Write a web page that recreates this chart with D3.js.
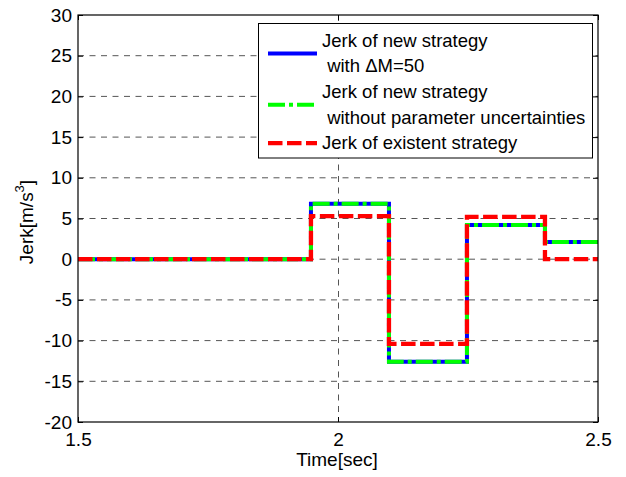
<!DOCTYPE html>
<html>
<head>
<meta charset="utf-8">
<script src="https://cdn.jsdelivr.net/npm/d3@7/dist/d3.min.js"></script>
<style>
  html, body { margin: 0; padding: 0; background: #fff; }
  svg { display: block; font-family: "Liberation Sans", Arial, sans-serif; }
</style>
</head>
<body>
<svg id="chart" width="626" height="477"></svg>
<script>
// Step instants [sec] where each jerk profile switches level
const stepTimes = [1.5, 1.948, 2.098, 2.248, 2.398];
const timeEnd = 2.5;

// Jerk level held from each step instant [m/s^3]
const jerkNewDM50    = [0, 6.8, -12.6, 4.2, 2.1];
const jerkNewNominal = [0, 6.8, -12.6, 4.2, 2.1];
const jerkExistent   = [0, 5.3, -10.4, 5.2, 0];

// Axis ticks
const xTicks = [1.5, 2, 2.5];
const yTicks = [-20, -15, -10, -5, 0, 5, 10, 15, 20, 25, 30];

// Legend entries (multi-line labels)
const legendLabels = [
  ["Jerk of new strategy", " with \u0394M=50"],
  ["Jerk of new strategy", " without parameter uncertainties"],
  ["Jerk of existent strategy"]
];

const svg = d3.select("#chart");
const L = 78, R = 598, T = 15, B = 422;

const x = d3.scaleLinear().domain([1.5, 2.5]).range([L, R]);
const y = d3.scaleLinear().domain([-20, 30]).range([B, T]);

// Grid
const grid = svg.append("g").attr("stroke", "#555").attr("stroke-width", 1)
  .attr("stroke-dasharray", "6,5.5").attr("fill", "none");
yTicks.filter(v => v > -20 && v < 30).forEach(v => {
  grid.append("line").attr("x1", L).attr("x2", R).attr("y1", y(v)).attr("y2", y(v));
});
xTicks.filter(v => v > 1.5 && v < 2.5).forEach(v => {
  grid.append("line").attr("x1", Math.round(x(v)) + 0.5).attr("x2", Math.round(x(v)) + 0.5)
    .attr("y1", T).attr("y2", B);
});

// Axes with inward ticks; plain hyphen for negative labels
const fontSize = 19;
const plain = d => String(d);
const yAxis = svg.append("g").attr("transform", `translate(${L},0)`)
  .call(d3.axisLeft(y).tickValues(yTicks).tickSizeInner(-5).tickSizeOuter(0).tickPadding(6)
    .tickFormat(plain));
const yAxisR = svg.append("g").attr("transform", `translate(${R},0)`)
  .call(d3.axisRight(y).tickValues(yTicks).tickSizeInner(-5).tickSizeOuter(0).tickFormat(""));
const xAxis = svg.append("g").attr("transform", `translate(0,${B})`)
  .call(d3.axisBottom(x).tickValues(xTicks).tickSizeInner(-5).tickSizeOuter(0).tickPadding(11)
    .tickFormat(plain));
const xAxisT = svg.append("g").attr("transform", `translate(0,${T})`)
  .call(d3.axisTop(x).tickValues(xTicks).tickSizeInner(-5).tickSizeOuter(0).tickFormat(""));
[yAxis, yAxisR, xAxis, xAxisT].forEach(g => {
  g.select(".domain").remove();
  g.selectAll("line").attr("stroke", "#000");
  g.selectAll("text").attr("font-size", fontSize).attr("fill", "#000")
    .attr("font-family", "Liberation Sans, Arial, sans-serif");
});

// Series
function stepData(vals) {
  const pts = stepTimes.map((t, i) => [t, vals[i]]);
  pts.push([timeEnd, vals[vals.length - 1]]);
  return pts;
}
const line = d3.line().x(d => x(d[0])).y(d => y(d[1])).curve(d3.curveStepAfter);

const series = [
  { data: jerkNewDM50,    color: "#0000ff", width: 4,   dash: null },
  { data: jerkNewNominal, color: "#00ff00", width: 4,   dash: "17,4,4,4" },
  { data: jerkExistent,   color: "#ff0000", width: 4.3, dash: "14.5,4.5" }
];
const clip = svg.append("clipPath").attr("id", "plotclip");
clip.append("rect").attr("x", L).attr("y", T).attr("width", R - L).attr("height", B - T);
const plotG = svg.append("g").attr("clip-path", "url(#plotclip)");
series.forEach(s => {
  plotG.append("path").datum(stepData(s.data))
    .attr("d", line).attr("fill", "none")
    .attr("stroke", s.color).attr("stroke-width", s.width)
    .attr("stroke-dasharray", s.dash)
    .attr("stroke-linejoin", "miter");
});

// Axes box
svg.append("rect").attr("x", L).attr("y", T).attr("width", R - L).attr("height", B - T)
  .attr("fill", "none").attr("stroke", "#000").attr("stroke-width", 1.2);

// Axis titles
svg.append("text").attr("x", (L + R) / 2 - 1).attr("y", 466).attr("text-anchor", "middle")
  .attr("font-size", fontSize).text("Time[sec]");
const yl = svg.append("text").attr("transform", "translate(33,222) rotate(-90)")
  .attr("text-anchor", "middle").attr("font-size", fontSize);
yl.append("tspan").text("Jerk[m/s");
yl.append("tspan").attr("font-size", 13).attr("dy", -9).text("3");
yl.append("tspan").attr("dy", 9).text("]");

// Legend
const legendFont = 18.5;
const lg = svg.append("g");
lg.append("rect").attr("x", 258.5).attr("y", 23.5).attr("width", 334).attr("height", 134.5)
  .attr("fill", "#fff").attr("stroke", "#000").attr("stroke-width", 1);
const lineH = 25.6;
let baseY = 46.7;
legendLabels.forEach((lines, i) => {
  const s = series[i];
  const firstBase = baseY;
  lines.forEach((txt, j) => {
    lg.append("text").attr("x", 322).attr("y", baseY + j * lineH)
      .attr("font-size", legendFont).style("white-space", "pre").text(txt);
  });
  const midY = firstBase - 6 + (lines.length - 1) * lineH / 2;
  lg.append("line").attr("x1", 268).attr("x2", 317).attr("y1", midY).attr("y2", midY)
    .attr("stroke", s.color).attr("stroke-width", s.width).attr("stroke-dasharray", s.dash);
  baseY += lines.length * lineH;
});
</script>
</body>
</html>
